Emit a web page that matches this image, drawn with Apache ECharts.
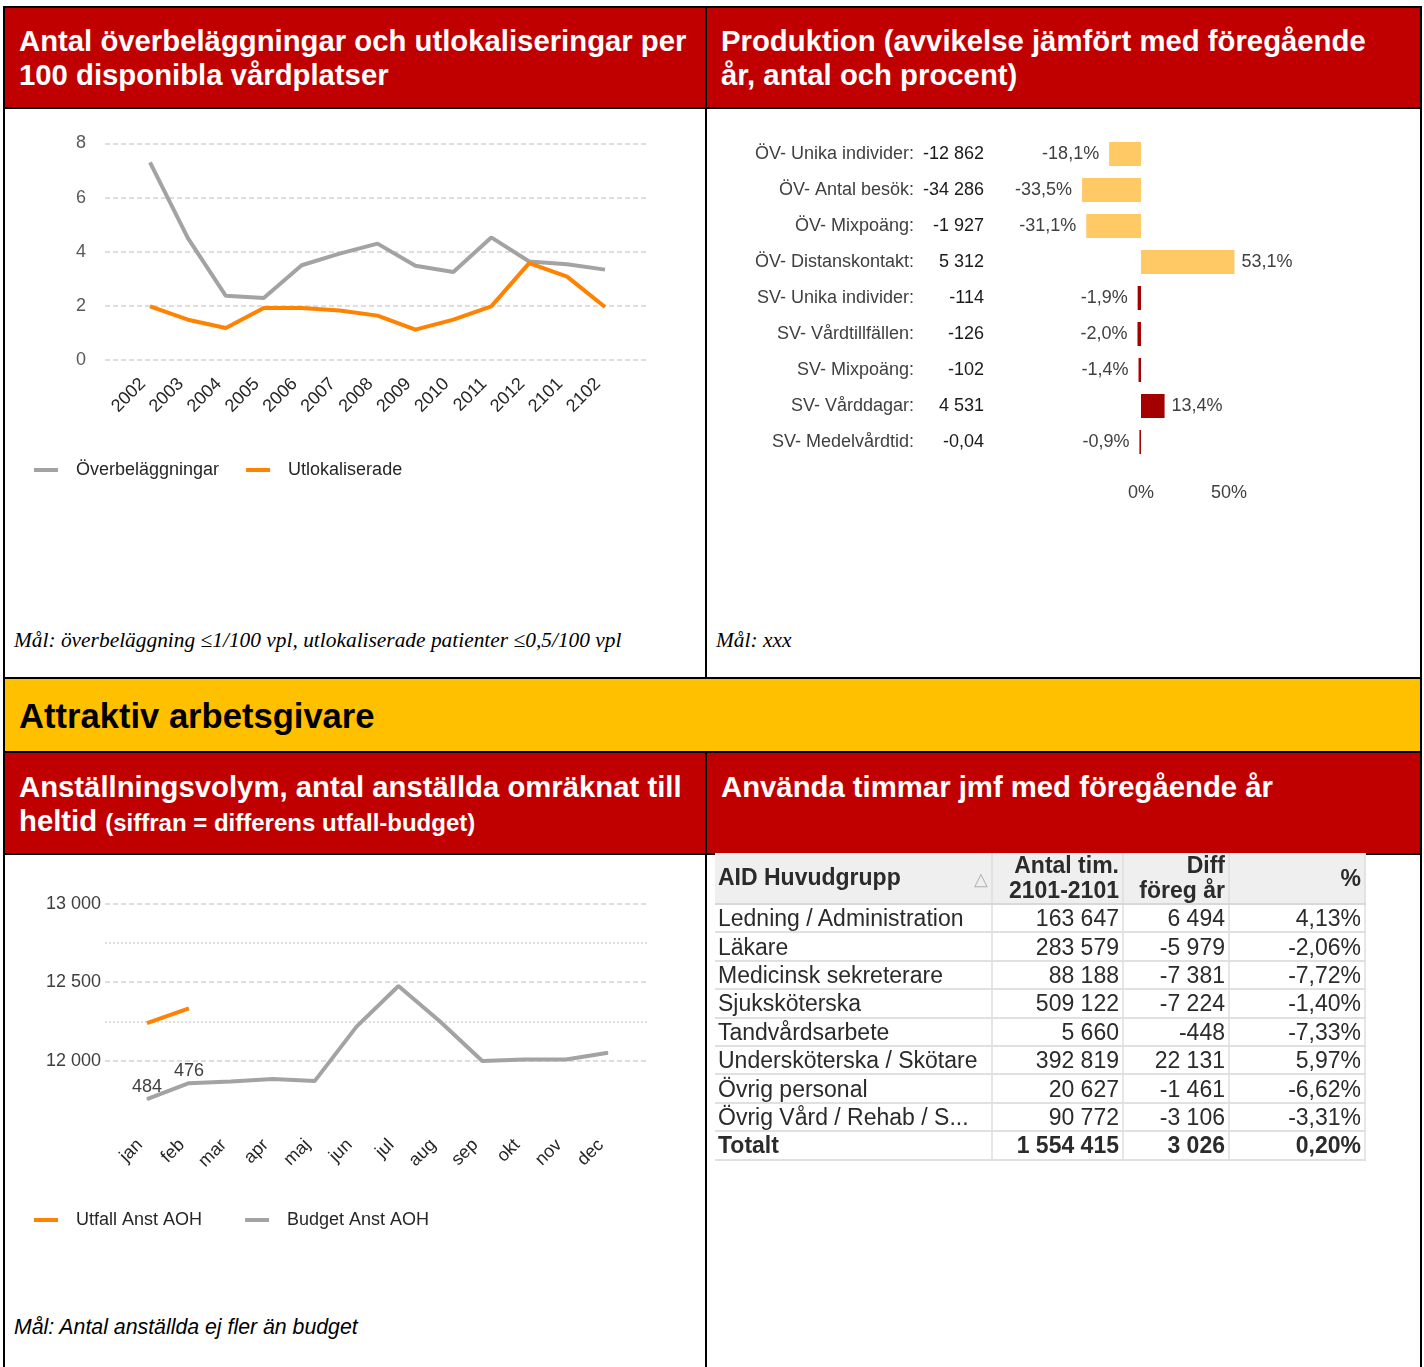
<!DOCTYPE html>
<html>
<head>
<meta charset="utf-8">
<title>Produktion och arbetsgivare</title>
<script src="https://cdn.jsdelivr.net/npm/echarts@6/dist/echarts.min.js"></script>
<style>
  * { margin: 0; padding: 0; box-sizing: border-box; }
  body { width: 1424px; height: 1367px; background: #fff; position: relative; overflow: hidden;
         font-family: 'Liberation Sans', Arial, sans-serif; }
  .cell { position: absolute; border: 2px solid #000; background: #fff; }
  .red { background: #C00000; color: #fff; font-weight: bold; font-size: 29.3px; line-height: 34px; padding: 16px 0 0 14px; }
  .yellow { background: #FFC000; color: #000; font-weight: bold; font-size: 34.6px; line-height: 74px; padding-left: 14px; }
  .goal { position: absolute; font-style: italic; font-size: 21.3px; line-height: 24px; color: #000; }
  .serif { font-family: 'Liberation Serif', 'Times New Roman', serif; font-size: 21.4px; }
  #chart { position: absolute; left: 0; top: 0; width: 1424px; height: 1367px; z-index: 2; }
  #tbl { position: absolute; left: 715px; top: 853px; width: 650px; border-collapse: collapse;
         table-layout: fixed; font-size: 23px; color: #2b2b2b; z-index: 3; }
  #tbl th { background: #EFEFEF; font-weight: bold; height: 50px; line-height: 25px; text-align: right;
            padding: 0 3px; border-right: 2px solid #e2e2e2; border-bottom: 2px solid #d8d8d8; vertical-align: middle; white-space: nowrap; }
  #tbl th:first-child { text-align: left; }
  #tbl td { height: 28.4px; line-height: 26px; padding: 0 3px; border-bottom: 2px solid #e0e0e0;
            border-right: 2px solid #e6e6e6; text-align: right; white-space: nowrap; overflow: hidden; }
  #tbl td:first-child { text-align: left; }
  #tbl tr.total td { font-weight: bold; }
  .sort { float: right; color: #b0b0b0; font-size: 18px; font-weight: normal; margin-top: 2px; }
</style>
</head>
<body>

<!-- ramar och rubriker -->
<div class="cell red" style="left:3px;top:6px;width:704px;height:103px;">Antal överbeläggningar och utlokaliseringar per<br>100 disponibla vårdplatser</div>
<div class="cell red" style="left:705px;top:6px;width:717px;height:103px;">Produktion (avvikelse jämfört med föregående<br>år, antal och procent)</div>
<div class="cell" style="left:3px;top:107px;width:704px;height:572px;"></div>
<div class="cell" style="left:705px;top:107px;width:717px;height:572px;"></div>
<div class="cell yellow" style="left:3px;top:677px;width:1419px;height:76px;">Attraktiv arbetsgivare</div>
<div class="cell red" style="left:3px;top:751px;width:704px;height:104px;padding-top:17px;">Anställningsvolym, antal anställda omräknat till<br>heltid <span style="font-size:24px;">(siffran = differens utfall-budget)</span></div>
<div class="cell red" style="left:705px;top:751px;width:717px;height:104px;padding-top:17px;">Använda timmar jmf med föregående år</div>
<div class="cell" style="left:3px;top:853px;width:704px;height:530px;"></div>
<div class="cell" style="left:705px;top:853px;width:717px;height:530px;"></div>

<div class="goal serif" style="left:14px;top:628px;">Mål: överbeläggning ≤1/100 vpl, utlokaliserade patienter ≤0,5/100 vpl</div>
<div class="goal serif" style="left:716px;top:628px;">Mål: xxx</div>
<div class="goal" style="left:14px;top:1315px;">Mål: Antal anställda ej fler än budget</div>

<div id="chart"></div>
<table id="tbl"></table>

<script type="text/javascript">
    // --- överbeläggningar / utlokaliserade ---
    var years = ['2002', '2003', '2004', '2005', '2006', '2007', '2008', '2009', '2010', '2011', '2012', '2101', '2102'];
    var overbelaggningar = [7.30, 4.50, 2.37, 2.29, 3.50, 3.93, 4.30, 3.48, 3.25, 4.53, 3.64, 3.54, 3.34];
    var utlokaliserade = [1.98, 1.49, 1.18, 1.92, 1.92, 1.83, 1.64, 1.12, 1.49, 1.98, 3.58, 3.08, 1.96];

    // --- produktion ---
    var prodNames = ['ÖV- Unika individer:', 'ÖV- Antal besök:', 'ÖV- Mixpoäng:', 'ÖV- Distanskontakt:',
        'SV- Unika individer:', 'SV- Vårdtillfällen:', 'SV- Mixpoäng:', 'SV- Vårddagar:', 'SV- Medelvårdtid:'];
    var prodAntal = ['-12 862', '-34 286', '-1 927', '5 312', '-114', '-126', '-102', '4 531', '-0,04'];
    var prodProcent = [-18.1, -33.5, -31.1, 53.1, -1.9, -2.0, -1.4, 13.4, -0.9];

    // --- anställningsvolym ---
    var months = ['jan', 'feb', 'mar', 'apr', 'maj', 'jun', 'jul', 'aug', 'sep', 'okt', 'nov', 'dec'];
    var budget = [11755, 11857, 11868, 11883, 11870, 12217, 12476, 12248, 11998, 12008, 12008, 12051];
    var utfall = [12239, 12333];
    var diffLabels = ['484', '476'];

    // --- använda timmar ---
    var tblGroups = ['Ledning / Administration', 'Läkare', 'Medicinsk sekreterare', 'Sjuksköterska', 'Tandvårdsarbete',
        'Undersköterska / Skötare', 'Övrig personal', 'Övrig Vård / Rehab / S...'];
    var tblHours = [163647, 283579, 88188, 509122, 5660, 392819, 20627, 90772];
    var tblDiff = [6494, -5979, -7381, -7224, -448, 22131, -1461, -3106];
    var tblPct = [4.13, -2.06, -7.72, -1.40, -7.33, 5.97, -6.62, -3.31];
    var tblTotal = ['Totalt', 1554415, 3026, 0.20];

    var GRAY = '#A3A3A3', ORANGE = '#FF8200', YELLOW = '#FFC966', DARKRED = '#A50000';
    var FONT = "'Liberation Sans', Arial, sans-serif";

    function fmtNum(n) {
        var s = Math.abs(n).toString().replace(/\B(?=(\d{3})+(?!\d))/g, '\u00a0');
        return (n < 0 ? '-' : '') + s;
    }
    function fmtPct(v, d) {
        return v.toFixed(d).replace('.', ',') + '%';
    }

    // tabell
    var html = '<colgroup><col style="width:277px"><col style="width:131px"><col style="width:106px"><col style="width:136px"></colgroup>';
    html += '<tr><th>AID Huvudgrupp<span class="sort">△</span></th><th>Antal tim.<br>2101-2101</th><th>Diff<br>föreg år</th><th>%</th></tr>';
    for (var i = 0; i < tblGroups.length; i++) {
        html += '<tr><td>' + tblGroups[i] + '</td><td>' + fmtNum(tblHours[i]) + '</td><td>' + fmtNum(tblDiff[i]) +
            '</td><td>' + fmtPct(tblPct[i], 2) + '</td></tr>';
    }
    html += '<tr class="total"><td>' + tblTotal[0] + '</td><td>' + fmtNum(tblTotal[1]) + '</td><td>' + fmtNum(tblTotal[2]) +
        '</td><td>' + fmtPct(tblTotal[3], 2) + '</td></tr>';
    document.getElementById('tbl').innerHTML = html;

    var myChart = echarts.init(document.getElementById('chart'));

    var dashLine = { type: [5, 3], color: '#d4d4d4', width: 1.5 };

    var option = {
        animation: false,
        textStyle: { fontFamily: FONT },
        grid: [
            { left: 105, top: 143.5, width: 544, height: 216.5 },   // bakgrund övre
            { left: 150, top: 143.5, width: 455, height: 216.5 },   // data övre
            { left: 1053, top: 136, width: 264, height: 324 },      // produktion
            { left: 105, top: 903.7, width: 544, height: 157 },     // bakgrund nedre
            { left: 147, top: 903.7, width: 461, height: 235.5 }    // data nedre
        ],
        legend: [{
            data: ['Överbeläggningar', 'Utlokaliserade'],
            left: 34, top: 461, padding: 0, icon: 'rect', itemWidth: 24, itemHeight: 4, itemGap: 27,
            textStyle: { fontSize: 18, color: '#262626', padding: [0, 0, 0, 13] }
        }, {
            data: ['Utfall Anst AOH', 'Budget Anst AOH'],
            left: 34, top: 1211, padding: 0, icon: 'rect', itemWidth: 24, itemHeight: 4, itemGap: 43,
            textStyle: { fontSize: 18, color: '#262626', padding: [0, 0, 0, 13] }
        }],
        xAxis: [
            { gridIndex: 0, type: 'value', show: false },
            {
                gridIndex: 1, type: 'category', data: years, boundaryGap: false,
                axisLine: { show: false }, axisTick: { show: false },
                axisLabel: { rotate: 45, margin: 14, padding: [0, 10, 0, 0], fontSize: 18, color: '#262626', interval: 0 }
            },
            {
                gridIndex: 2, type: 'value', min: -50, max: 100, interval: 50,
                splitLine: { show: false }, axisLine: { show: false }, axisTick: { show: false },
                axisLabel: {
                    margin: 24, fontSize: 18, color: '#404040',
                    formatter: function (v) { return (v === 0 || v === 50) ? v + '%' : ''; }
                }
            },
            { gridIndex: 3, type: 'value', show: false },
            {
                gridIndex: 4, type: 'category', data: months, boundaryGap: false,
                axisLine: { show: false }, axisTick: { show: false },
                axisLabel: { rotate: 45, margin: -4, padding: [0, 10, 0, 0], fontSize: 18, color: '#262626', interval: 0 }
            }
        ],
        yAxis: [
            {
                gridIndex: 0, type: 'value', min: 0, max: 8, interval: 2,
                axisLine: { show: false }, axisTick: { show: false },
                splitLine: { lineStyle: dashLine },
                axisLabel: { margin: 19, fontSize: 18, color: '#595959' }
            },
            { gridIndex: 1, type: 'value', min: 0, max: 8, show: false },
            {
                gridIndex: 2, type: 'category', inverse: true, data: prodNames,
                axisLine: { show: false }, axisTick: { show: false },
                axisLabel: {
                    margin: 69,
                    formatter: function (name, idx) {
                        return '{n|' + name + '}{v|' + prodAntal[idx] + '}';
                    },
                    rich: {
                        n: { width: 200, align: 'right', fontSize: 18, color: '#404040', fontFamily: FONT },
                        v: { width: 70, align: 'right', fontSize: 18, color: '#1a1a1a', fontFamily: FONT }
                    }
                }
            },
            {
                gridIndex: 3, type: 'value', min: 12000, max: 13000, interval: 500,
                axisLine: { show: false }, axisTick: { show: false },
                splitLine: { lineStyle: dashLine },
                minorTick: { show: false, splitNumber: 2 },
                minorSplitLine: { show: true, lineStyle: { type: [2, 2], color: '#d4d4d4', width: 1.5 } },
                axisLabel: { margin: 4, fontSize: 18, color: '#404040', formatter: function (v) { return fmtNum(v); } }
            },
            { gridIndex: 4, type: 'value', min: 11500, max: 13000, show: false }
        ],
        series: [{
            name: 'Överbeläggningar', type: 'line', xAxisIndex: 1, yAxisIndex: 1,
            data: overbelaggningar, symbol: 'none',
            lineStyle: { width: 4, color: GRAY }, itemStyle: { color: GRAY }
        }, {
            name: 'Utlokaliserade', type: 'line', xAxisIndex: 1, yAxisIndex: 1,
            data: utlokaliserade, symbol: 'none',
            lineStyle: { width: 4, color: ORANGE }, itemStyle: { color: ORANGE }
        }, {
            name: 'Produktion', type: 'bar', xAxisIndex: 2, yAxisIndex: 2, barWidth: 24,
            data: prodProcent.map(function (v, i) {
                return {
                    value: v,
                    itemStyle: { color: prodNames[i].indexOf('ÖV') === 0 ? YELLOW : DARKRED },
                    label: { position: v < 0 ? 'left' : 'right', distance: v < 0 ? 10 : 7 }
                };
            }),
            label: {
                show: true, fontSize: 18, color: '#404040',
                formatter: function (p) { return fmtPct(p.value, 1); }
            }
        }, {
            name: 'Utfall Anst AOH', type: 'line', xAxisIndex: 4, yAxisIndex: 4,
            data: utfall, symbol: 'none',
            lineStyle: { width: 4, color: ORANGE }, itemStyle: { color: ORANGE }
        }, {
            name: 'Budget Anst AOH', type: 'line', xAxisIndex: 4, yAxisIndex: 4,
            symbol: 'circle', symbolSize: 1,
            data: budget.map(function (v, i) {
                return i < diffLabels.length
                    ? { value: v, label: { show: true, formatter: diffLabels[i] } }
                    : v;
            }),
            label: { show: false, position: 'top', distance: 3, fontSize: 18, color: '#404040' },
            lineStyle: { width: 4, color: GRAY }, itemStyle: { color: GRAY }
        }]
    };

    myChart.setOption(option);
</script>
</body>
</html>
